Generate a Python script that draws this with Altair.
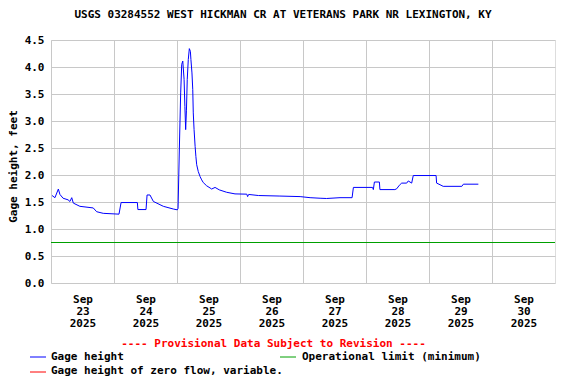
import altair as alt
import pandas as pd

TITLE = "USGS 03284552 WEST HICKMAN CR AT VETERANS PARK NR LEXINGTON, KY"

# Gage height readings (clock time as plotted)
times = [
    "2025-09-23T00:24", "2025-09-23T01:30", "2025-09-23T02:48", "2025-09-23T03:24",
    "2025-09-23T04:36", "2025-09-23T06:30", "2025-09-23T07:12", "2025-09-23T07:54",
    "2025-09-23T08:30", "2025-09-23T11:00", "2025-09-23T16:06", "2025-09-23T17:24",
    "2025-09-23T19:54", "2025-09-24T01:54", "2025-09-24T02:42", "2025-09-24T08:54",
    "2025-09-24T09:06", "2025-09-24T12:12", "2025-09-24T12:36", "2025-09-24T13:42",
    "2025-09-24T15:00", "2025-09-24T18:48", "2025-09-24T22:36", "2025-09-25T00:06",
    "2025-09-25T00:24", "2025-09-25T00:54", "2025-09-25T01:24", "2025-09-25T01:48",
    "2025-09-25T02:12", "2025-09-25T02:42", "2025-09-25T03:00", "2025-09-25T03:18",
    "2025-09-25T03:36", "2025-09-25T03:54", "2025-09-25T04:18", "2025-09-25T04:42",
    "2025-09-25T05:06", "2025-09-25T05:18", "2025-09-25T05:42", "2025-09-25T06:00",
    "2025-09-25T06:12", "2025-09-25T06:30", "2025-09-25T06:54", "2025-09-25T07:12",
    "2025-09-25T07:30", "2025-09-25T08:06", "2025-09-25T08:48", "2025-09-25T09:24",
    "2025-09-25T10:00", "2025-09-25T11:18", "2025-09-25T12:36", "2025-09-25T13:12",
    "2025-09-25T14:30", "2025-09-25T16:06", "2025-09-25T18:54", "2025-09-25T22:06",
    "2025-09-26T02:36", "2025-09-26T02:54", "2025-09-26T03:18", "2025-09-26T07:00",
    "2025-09-26T15:12", "2025-09-26T22:54", "2025-09-27T02:42", "2025-09-27T06:30",
    "2025-09-27T09:00", "2025-09-27T14:06", "2025-09-27T18:42", "2025-09-27T19:12",
    "2025-09-28T02:30", "2025-09-28T02:48", "2025-09-28T03:12", "2025-09-28T05:06",
    "2025-09-28T05:18", "2025-09-28T11:00", "2025-09-28T11:42", "2025-09-28T12:42",
    "2025-09-28T13:36", "2025-09-28T15:30", "2025-09-28T16:06", "2025-09-28T17:24",
    "2025-09-28T18:00", "2025-09-29T02:42", "2025-09-29T02:54", "2025-09-29T04:12",
    "2025-09-29T05:24", "2025-09-29T12:30", "2025-09-29T13:06", "2025-09-29T18:48",
]
gage_height = [
    1.62, 1.58, 1.74, 1.64,
    1.57, 1.54, 1.51, 1.58,
    1.48, 1.42, 1.39, 1.32,
    1.29, 1.275, 1.49, 1.49,
    1.36, 1.36, 1.63, 1.63,
    1.51, 1.42, 1.37, 1.355,
    1.38, 2.50, 3.52, 4.05,
    4.11, 3.77, 3.27, 2.84,
    3.20, 3.77, 4.14, 4.34,
    4.29, 4.14, 3.89, 3.58,
    3.15, 2.84, 2.53, 2.34,
    2.19, 2.065, 1.97, 1.91,
    1.86, 1.80, 1.76, 1.74,
    1.77, 1.725, 1.68, 1.65,
    1.645, 1.60, 1.64, 1.62,
    1.61, 1.60, 1.58, 1.57,
    1.565, 1.58, 1.58, 1.77,
    1.77, 1.73, 1.87, 1.87,
    1.73, 1.73, 1.745, 1.81,
    1.85, 1.85, 1.89, 1.85,
    1.99, 1.99, 1.85, 1.82,
    1.79, 1.79, 1.83, 1.83,
]
operational_limit = [0.75]
axis_days = [23, 24, 25, 26, 27, 28, 29, 30]
y_ticks = [0.0, 0.5, 1.0, 1.5, 2.0, 2.5, 3.0, 3.5, 4.0, 4.5]

FONT = "DejaVu Sans Mono"
BLUE = "#0000ff"
GREEN = "#00a000"
RED = "#ff0000"

df = pd.DataFrame({"time": [t + ":00Z" for t in times], "gage": gage_height})
lim_df = pd.DataFrame({"limit": operational_limit})
one = pd.DataFrame({"k": [0]})

x_scale = alt.Scale(
    type="utc",
    domain=[alt.DateTime(year=2025, month=9, date=23, utc=True),
            alt.DateTime(year=2025, month=10, date=1, utc=True)],
)
x_axis = alt.Axis(
    title=None,
    values=[alt.DateTime(year=2025, month=9, date=d, utc=True) for d in axis_days],
    labelExpr="[utcFormat(datum.value, '%b'), utcFormat(datum.value, '%d'), utcFormat(datum.value, '%Y')]",
    labelOffset=31.5, labelFlush=False, labelOverlap=False, labelAlign="center",
    labelBaseline="top", labelLineHeight=12, labelPadding=10,
    ticks=False, domain=False, grid=True, gridColor="#c8c8c8",
    labelFont=FONT, labelFontSize=11, labelFontWeight="bold", labelColor="black",
)
y_axis = alt.Axis(
    title="Gage height, feet", values=y_ticks, format=".1f", tickCount=10,
    ticks=False, domain=False, grid=True, gridColor="#c8c8c8",
    labelOverlap=False, labelFlush=False,
    labelFont=FONT, labelFontSize=11, labelFontWeight="bold", labelColor="black",
    labelPadding=7,
    titleFont=FONT, titleFontSize=11, titleFontWeight="bold", titleColor="black",
    titleX=-38, titleY=126, titleAlign="center", titleBaseline="middle", titleAngle=270,
)
y_scale = alt.Scale(domain=[0, 4.5], nice=False)

line = alt.Chart(df).mark_line(color=BLUE, strokeWidth=1, interpolate="linear").encode(
    x=alt.X("time:T", scale=x_scale, axis=x_axis),
    y=alt.Y("gage:Q", scale=y_scale, axis=y_axis),
)
limit = alt.Chart(lim_df).mark_rule(color=GREEN, strokeWidth=1).encode(y="limit:Q")

def txt(s, x, y, color="black", align="left"):
    return alt.Chart(one).mark_text(
        text=s, font=FONT, fontSize=11, fontWeight="bold", color=color,
        align=align, baseline="middle",
    ).encode(x=alt.value(x), y=alt.value(y))

def swatch(x1, y, color):
    return alt.Chart(one).mark_rule(color=color, strokeWidth=1).encode(
        x=alt.value(x1), x2=alt.value(x1 + 16), y=alt.value(y))

legend = [
    txt("---- Provisional Data Subject to Revision ----", 222.5, 303.5, RED, "center"),
    swatch(-21, 317, BLUE), txt("Gage height", 0, 317),
    swatch(229, 317, GREEN), txt("Operational limit (minimum)", 251, 317),
    swatch(-21, 332, RED), txt("Gage height of zero flow, variable.", 0, 330.5),
]

chart = alt.layer(line, limit, *legend).properties(
    width=504, height=243,
    title=alt.TitleParams(TITLE, font=FONT, fontSize=11, fontWeight="bold",
                          color="black", anchor="middle", dx=-20, offset=14),
    autosize=alt.AutoSizeParams(type="none"),
    padding={"left": 43, "top": 32, "right": 13, "bottom": 93},
).configure_view(stroke="black", strokeWidth=1).configure(background="white")

chart.save("out.html", embed_options={"renderer": "svg", "actions": False})
